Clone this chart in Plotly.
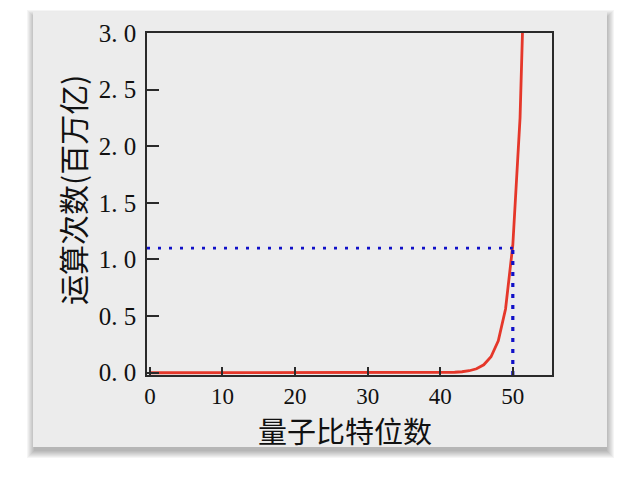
import plotly.graph_objects as go

# ---- data ----
qubits = [0, 5, 10, 15, 20, 25, 30, 35, 40, 41, 42, 43, 44, 45, 46, 47, 48, 49, 50, 51, 52]
ops = [0.0, 0.0, 0.0, 0.0, 0.0, 0.0, 0.0, 0.0003, 0.0011, 0.0022, 0.0044, 0.0088,
       0.0176, 0.035, 0.070, 0.141, 0.281, 0.563, 1.126, 2.252, 4.504]
threshold_qubits = 50
threshold_ops = 1.1
x_ticks = [0, 10, 20, 30, 40, 50]
y_ticks = [0.0, 0.5, 1.0, 1.5, 2.0, 2.5, 3.0]
y_ticklabels = ["0. 0", "0. 5", "1. 0", "1. 5", "2. 0", "2. 5", "3. 0"]
x_title = "量子比特位数"
y_title = "运算次数(百万亿)"

x_range = [-0.4, 55.4]
y_range = [-0.02, 3.0]

card = "#ececec"
axis_col = "#2a2a2a"

# the page body adds an 8px offset; target positions are given in screen pixels
OFF = 8
L, R, T, B = 147, 552, 33, 375   # plot area on screen

fig = go.Figure()

fig.add_trace(go.Scatter(x=qubits, y=ops, mode="lines",
                         line=dict(color="#e5372a", width=2.8),
                         hoverinfo="skip", showlegend=False))
fig.add_trace(go.Scatter(x=[x_range[0], threshold_qubits], y=[threshold_ops, threshold_ops],
                         mode="lines", line=dict(color="#1010c8", width=2.6, dash="3px,8px"),
                         hoverinfo="skip", showlegend=False))
fig.add_trace(go.Scatter(x=[threshold_qubits, threshold_qubits], y=[y_range[0], threshold_ops],
                         mode="lines", line=dict(color="#1010c8", width=3.2, dash="4px,7px"),
                         hoverinfo="skip", showlegend=False))

def px(x):
    return (x - L) / (R - L)
def py(y):
    return (B - y) / (B - T)

shapes = []
# soft shadow, mostly below the card
for i in range(8):
    g = 8 - i
    shapes.append(dict(type="rect", xref="paper", yref="paper",
                       x0=px(33 - g + 2), x1=px(607 + g - 1),
                       y0=py(447 + g + 3), y1=py(12 - g + 6),
                       fillcolor="rgba(0,0,0,0.04)", line=dict(width=0), layer="below"))
shapes.append(dict(type="rect", xref="paper", yref="paper",
                   x0=px(33), x1=px(607), y0=py(447), y1=py(12),
                   fillcolor=card, line=dict(width=0), layer="below"))

annotations = [
    dict(text=x_title, xref="paper", yref="paper", x=px(345), y=py(430),
         xanchor="center", yanchor="middle", showarrow=False,
         font=dict(family="Noto Sans CJK SC", size=29, color="#111")),
    dict(text=y_title, xref="paper", yref="paper", x=px(72), y=py(190),
         xanchor="center", yanchor="middle", showarrow=False, textangle=-90,
         font=dict(family="Noto Sans CJK SC", size=30, color="#111")),
]

fig.update_layout(
    width=640, height=480,
    margin=dict(l=L - OFF, r=640 - R + OFF, t=T - OFF, b=480 - B + OFF, pad=0),
    paper_bgcolor="white", plot_bgcolor=card,
    shapes=shapes, annotations=annotations,
    showlegend=False,
    xaxis=dict(range=x_range, tickvals=x_ticks, ticks="inside", ticklen=8, tickwidth=1.5,
               tickcolor=axis_col, showline=True, linecolor=axis_col, linewidth=1.5,
               mirror=True, showgrid=False, zeroline=False, ticklabelstandoff=0,
               tickfont=dict(family="Liberation Serif", size=23, color="#111")),
    yaxis=dict(range=y_range, tickvals=y_ticks, ticktext=y_ticklabels, ticks="inside",
               ticklen=12, tickwidth=1.5, tickcolor=axis_col, showline=True,
               linecolor=axis_col, linewidth=1.5, mirror=True, showgrid=False,
               zeroline=False, ticklabelstandoff=4,
               tickfont=dict(family="Liberation Serif", size=25, color="#111")),
)

fig.write_html("out.html")
